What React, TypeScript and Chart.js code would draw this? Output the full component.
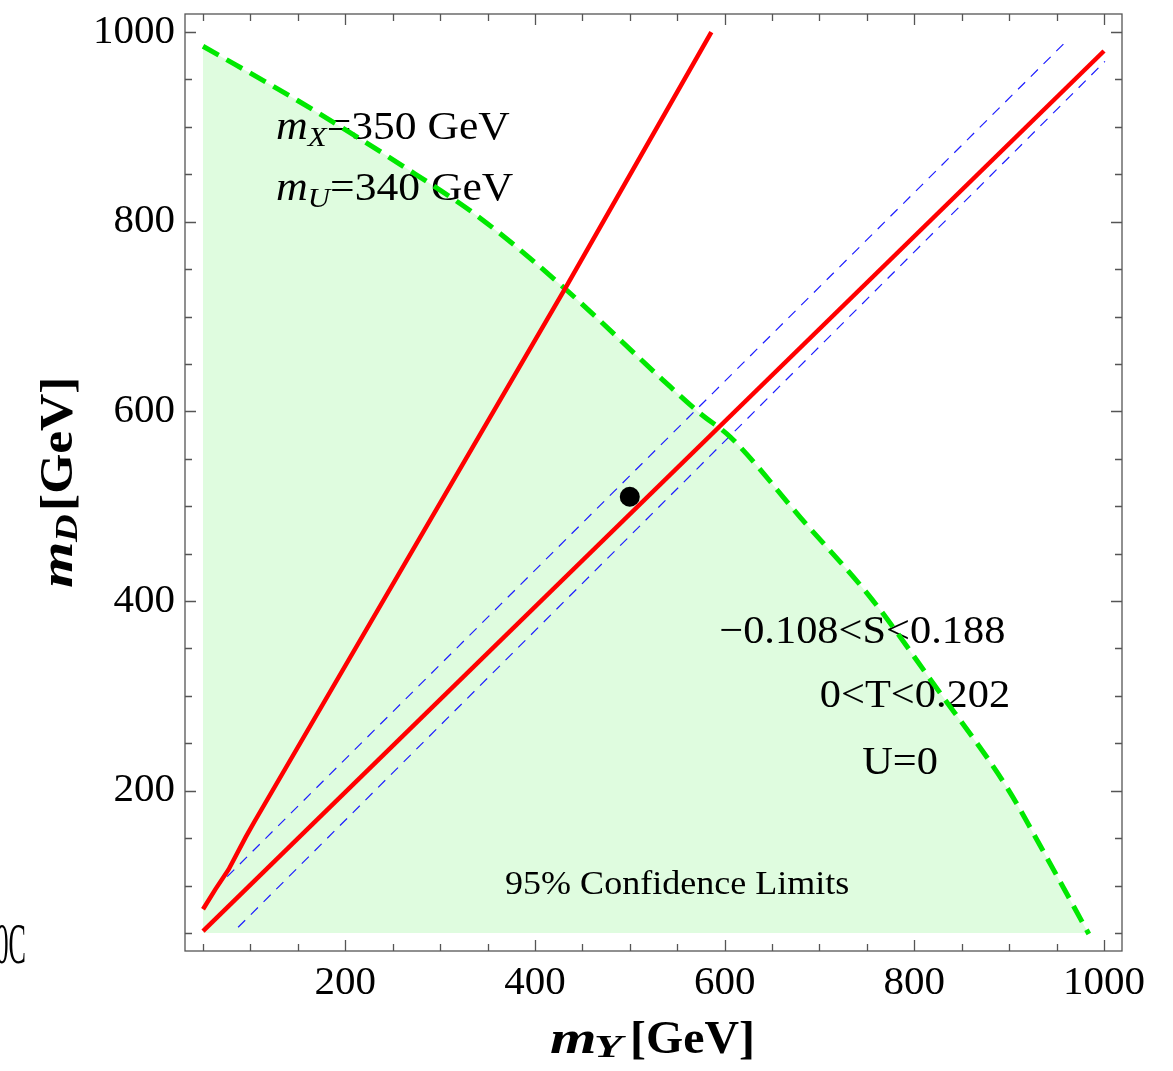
import React, { useEffect, useRef } from "react";
import { Chart, registerables } from "chart.js";

Chart.register(...registerables);

// ---------- data ----------
const majorTicks = [200, 400, 600, 800, 1000];
const minorTicks = [50, 100, 150, 250, 300, 350, 450, 500, 550, 650, 700, 750, 850, 900, 950];

// 95% CL boundary (green dashed) and region
const boundaryX = [50, 151, 257, 342, 431, 535, 574, 606, 680, 756, 820, 898, 935, 984];
const boundaryY = [985, 927, 861, 804, 730, 633, 598, 573, 488, 401, 313, 203, 138, 49];

// steep red curve
const steepRedX = [50, 63, 77, 86, 95, 104, 431, 586];
const steepRedY = [75, 96, 117, 134, 151, 167, 728, 1000];

// diagonal red curve
const diagRedX = [50, 1000];
const diagRedY = [52, 980];

// blue dashed lines
const upperBlueX = [62, 962];
const upperBlueY = [96, 992];
const lowerBlueX = [87, 1001];
const lowerBlueY = [56, 969];

// benchmark point
const pointX = [500];
const pointY = [510];

const SERIF = '"Liberation Serif", "Times New Roman", serif';

const toXY = (xs: number[], ys: number[]) => xs.map((x, i) => ({ x, y: ys[i] }));

type Part = { t: string; font: string; dy?: number; sx?: number; w?: number };

function drawParts(
  ctx: CanvasRenderingContext2D,
  parts: Part[],
  x: number,
  y: number,
  align: "left" | "right" | "center"
) {
  const widths = parts.map((p) => {
    if (p.w !== undefined) return p.w;
    ctx.font = p.font;
    return ctx.measureText(p.t).width * (p.sx ?? 1);
  });
  const total = widths.reduce((a, b) => a + b, 0);
  let cx = align === "left" ? x : align === "right" ? x - total : x - total / 2;
  parts.forEach((p, i) => {
    ctx.save();
    ctx.font = p.font;
    ctx.textAlign = "left";
    ctx.textBaseline = "alphabetic";
    ctx.fillStyle = "#000";
    ctx.translate(cx, y + (p.dy ?? 0));
    ctx.scale(p.sx ?? 1, 1);
    ctx.fillText(p.t, 0, 0);
    ctx.restore();
    cx += widths[i];
  });
}

const annotationPlugin = {
  id: "annotations",
  afterDatasetDraw(chart: any, args: any) {
    const ds = chart.data.datasets[args.index];
    if (ds.label !== "region") return;
    const ctx: CanvasRenderingContext2D = chart.ctx;
    const xs = chart.scales.x;
    const ys = chart.scales.y;
    const px = (v: number) => xs.getPixelForValue(v);
    const py = (v: number) => ys.getPixelForValue(v);
    const S = 1.06;
    const reg = `40px ${SERIF}`;
    const it = `italic 40px ${SERIF}`;
    const sub = `italic 28px ${SERIF}`;
    drawParts(
      ctx,
      [
        { t: "m", font: it, sx: 1.1 },
        { t: "X", font: sub, dy: 7, sx: 1.1 },
        { t: "=350 GeV", font: reg, sx: 1.09 },
      ],
      px(127),
      py(887),
      "left"
    );
    drawParts(
      ctx,
      [
        { t: "m", font: it, sx: 1.1 },
        { t: "U", font: sub, dy: 7, sx: 1.1 },
        { t: "=340 GeV", font: reg, sx: 1.09 },
      ],
      px(127),
      py(823),
      "left"
    );
    drawParts(ctx, [{ t: "\u22120.108<S<0.188", font: reg, sx: S }], px(896), py(356), "right");
    drawParts(ctx, [{ t: "0<T<0.202", font: reg, sx: S }], px(901), py(288), "right");
    drawParts(ctx, [{ t: "U=0", font: reg, sx: S }], px(785), py(218), "center");
    drawParts(ctx, [{ t: "95% Confidence Limits", font: `34px ${SERIF}`, sx: S }], px(550), py(91), "center");
  },
  afterDraw(chart: any) {
    const ctx: CanvasRenderingContext2D = chart.ctx;
    const { left, right, top, bottom } = chart.chartArea;
    const xs = chart.scales.x;
    const ys = chart.scales.y;
    ctx.save();
    ctx.strokeStyle = "#555";
    ctx.lineWidth = 1.3;
    ctx.strokeRect(left, top, right - left, bottom - top);
    const tick = (vals: number[], len: number) => {
      vals.forEach((v) => {
        const x = Math.round(xs.getPixelForValue(v)) + 0.5;
        const y = Math.round(ys.getPixelForValue(v)) + 0.5;
        ctx.beginPath();
        ctx.moveTo(x, bottom);
        ctx.lineTo(x, bottom - len);
        ctx.moveTo(x, top);
        ctx.lineTo(x, top + len);
        ctx.moveTo(left, y);
        ctx.lineTo(left + len, y);
        ctx.moveTo(right, y);
        ctx.lineTo(right - len, y);
        ctx.stroke();
      });
    };
    tick(majorTicks, 11);
    tick(minorTicks, 7);
    ctx.restore();

    // axis titles
    const bi = `italic bold 46px ${SERIF}`;
    const bsub = `italic bold 32px ${SERIF}`;
    const b = `bold 46px ${SERIF}`;
    drawParts(
      ctx,
      [
        { t: "m", font: bi, sx: 1.3, w: 44 },
        { t: "Y", font: bsub, dy: 4, sx: 1.45, w: 36 },
        { t: "[GeV]", font: b, sx: 1.04 },
      ],
      550,
      1053,
      "left"
    );
    ctx.save();
    ctx.translate(72, 588);
    ctx.rotate(-Math.PI / 2);
    drawParts(
      ctx,
      [
        { t: "m", font: bi, sx: 1.3, w: 46 },
        { t: "D", font: bsub, dy: 5, sx: 1.2, w: 31 },
        { t: "[GeV]", font: b, sx: 1.12 },
      ],
      0,
      0,
      "left"
    );
    ctx.restore();

    // clipped fragment at the left edge
    ctx.save();
    ctx.font = `58px ${SERIF}`;
    ctx.fillStyle = "#000";
    ctx.textAlign = "right";
    ctx.textBaseline = "alphabetic";
    ctx.translate(26, 963);
    ctx.scale(0.45, 1);
    ctx.fillText("0C", 0, 0);
    ctx.restore();
  },
};

const zeroPad = (s: any) => {
  s.paddingTop = 0;
  s.paddingBottom = 0;
  s.paddingLeft = 0;
  s.paddingRight = 0;
};

export default function App() {
  const ref = useRef<HTMLCanvasElement | null>(null);
  useEffect(() => {
    if (!ref.current) return;
    const tickFont = { family: SERIF, size: 41 };
    const chart = new Chart(ref.current, {
      type: "scatter",
      data: {
        datasets: [
          {
            label: "region",
            data: toXY(boundaryX, boundaryY),
            showLine: true,
            cubicInterpolationMode: "monotone",
            borderColor: "transparent",
            borderWidth: 0,
            backgroundColor: "rgb(223,252,223)",
            fill: { value: 50 },
            pointRadius: 0,
            order: 10,
          },
          {
            label: "upperBlue",
            data: toXY(upperBlueX, upperBlueY),
            showLine: true,
            borderColor: "rgb(30,30,255)",
            borderWidth: 1.2,
            borderDash: [10, 8],
            pointRadius: 0,
            fill: false,
            order: 6,
          },
          {
            label: "lowerBlue",
            data: toXY(lowerBlueX, lowerBlueY),
            showLine: true,
            borderColor: "rgb(30,30,255)",
            borderWidth: 1.2,
            borderDash: [10, 8],
            pointRadius: 0,
            fill: false,
            order: 5,
          },
          {
            label: "boundary",
            data: toXY(boundaryX, boundaryY),
            showLine: true,
            cubicInterpolationMode: "monotone",
            borderColor: "rgb(0,232,0)",
            borderWidth: 5,
            borderDash: [18, 9],
            pointRadius: 0,
            fill: false,
            order: 4,
          },
          {
            label: "steepRed",
            data: toXY(steepRedX, steepRedY),
            showLine: true,
            borderColor: "rgb(255,0,0)",
            borderWidth: 4.5,
            pointRadius: 0,
            fill: false,
            order: 3,
          },
          {
            label: "diagRed",
            data: toXY(diagRedX, diagRedY),
            showLine: true,
            borderColor: "rgb(255,0,0)",
            borderWidth: 4.5,
            pointRadius: 0,
            fill: false,
            order: 2,
          },
          {
            label: "point",
            data: toXY(pointX, pointY),
            showLine: false,
            pointRadius: 10,
            pointBackgroundColor: "#000",
            pointBorderColor: "#000",
            pointBorderWidth: 0,
            order: 1,
          },
        ],
      },
      options: {
        responsive: false,
        animation: false,
        devicePixelRatio: 1,
        layout: { padding: { top: 14, right: 51, left: 0, bottom: 0 } },
        plugins: {
          legend: { display: false },
          tooltip: { enabled: false },
          filler: { propagate: false },
        },
        scales: {
          x: {
            type: "linear",
            position: "bottom",
            min: 31,
            max: 1019,
            grid: { display: false, drawTicks: false },
            border: { display: false },
            afterBuildTicks: (s: any) => {
              s.ticks = majorTicks.map((v) => ({ value: v }));
            },
            afterFit: (s: any) => {
              s.height = 120;
              zeroPad(s);
            },
            ticks: {
              font: tickFont,
              color: "#000",
              padding: 8,
              maxRotation: 0,
              autoSkip: false,
              callback: (v: any) => String(v),
            },
          },
          y: {
            type: "linear",
            position: "left",
            min: 31,
            max: 1019,
            grid: { display: false, drawTicks: false },
            border: { display: false },
            afterBuildTicks: (s: any) => {
              s.ticks = majorTicks.map((v) => ({ value: v }));
            },
            afterFit: (s: any) => {
              s.width = 185;
              zeroPad(s);
            },
            ticks: {
              font: tickFont,
              color: "#000",
              padding: 10,
              autoSkip: false,
              callback: (v: any) => String(v),
            },
          },
        },
      } as any,
      plugins: [annotationPlugin],
    });
    return () => chart.destroy();
  }, []);
  return (
    <div style={{ position: "absolute", left: 0, top: 0, width: 1173, height: 1071, background: "#fff" }}>
      <canvas ref={ref} width={1173} height={1071} style={{ display: "block" }} />
    </div>
  );
}
